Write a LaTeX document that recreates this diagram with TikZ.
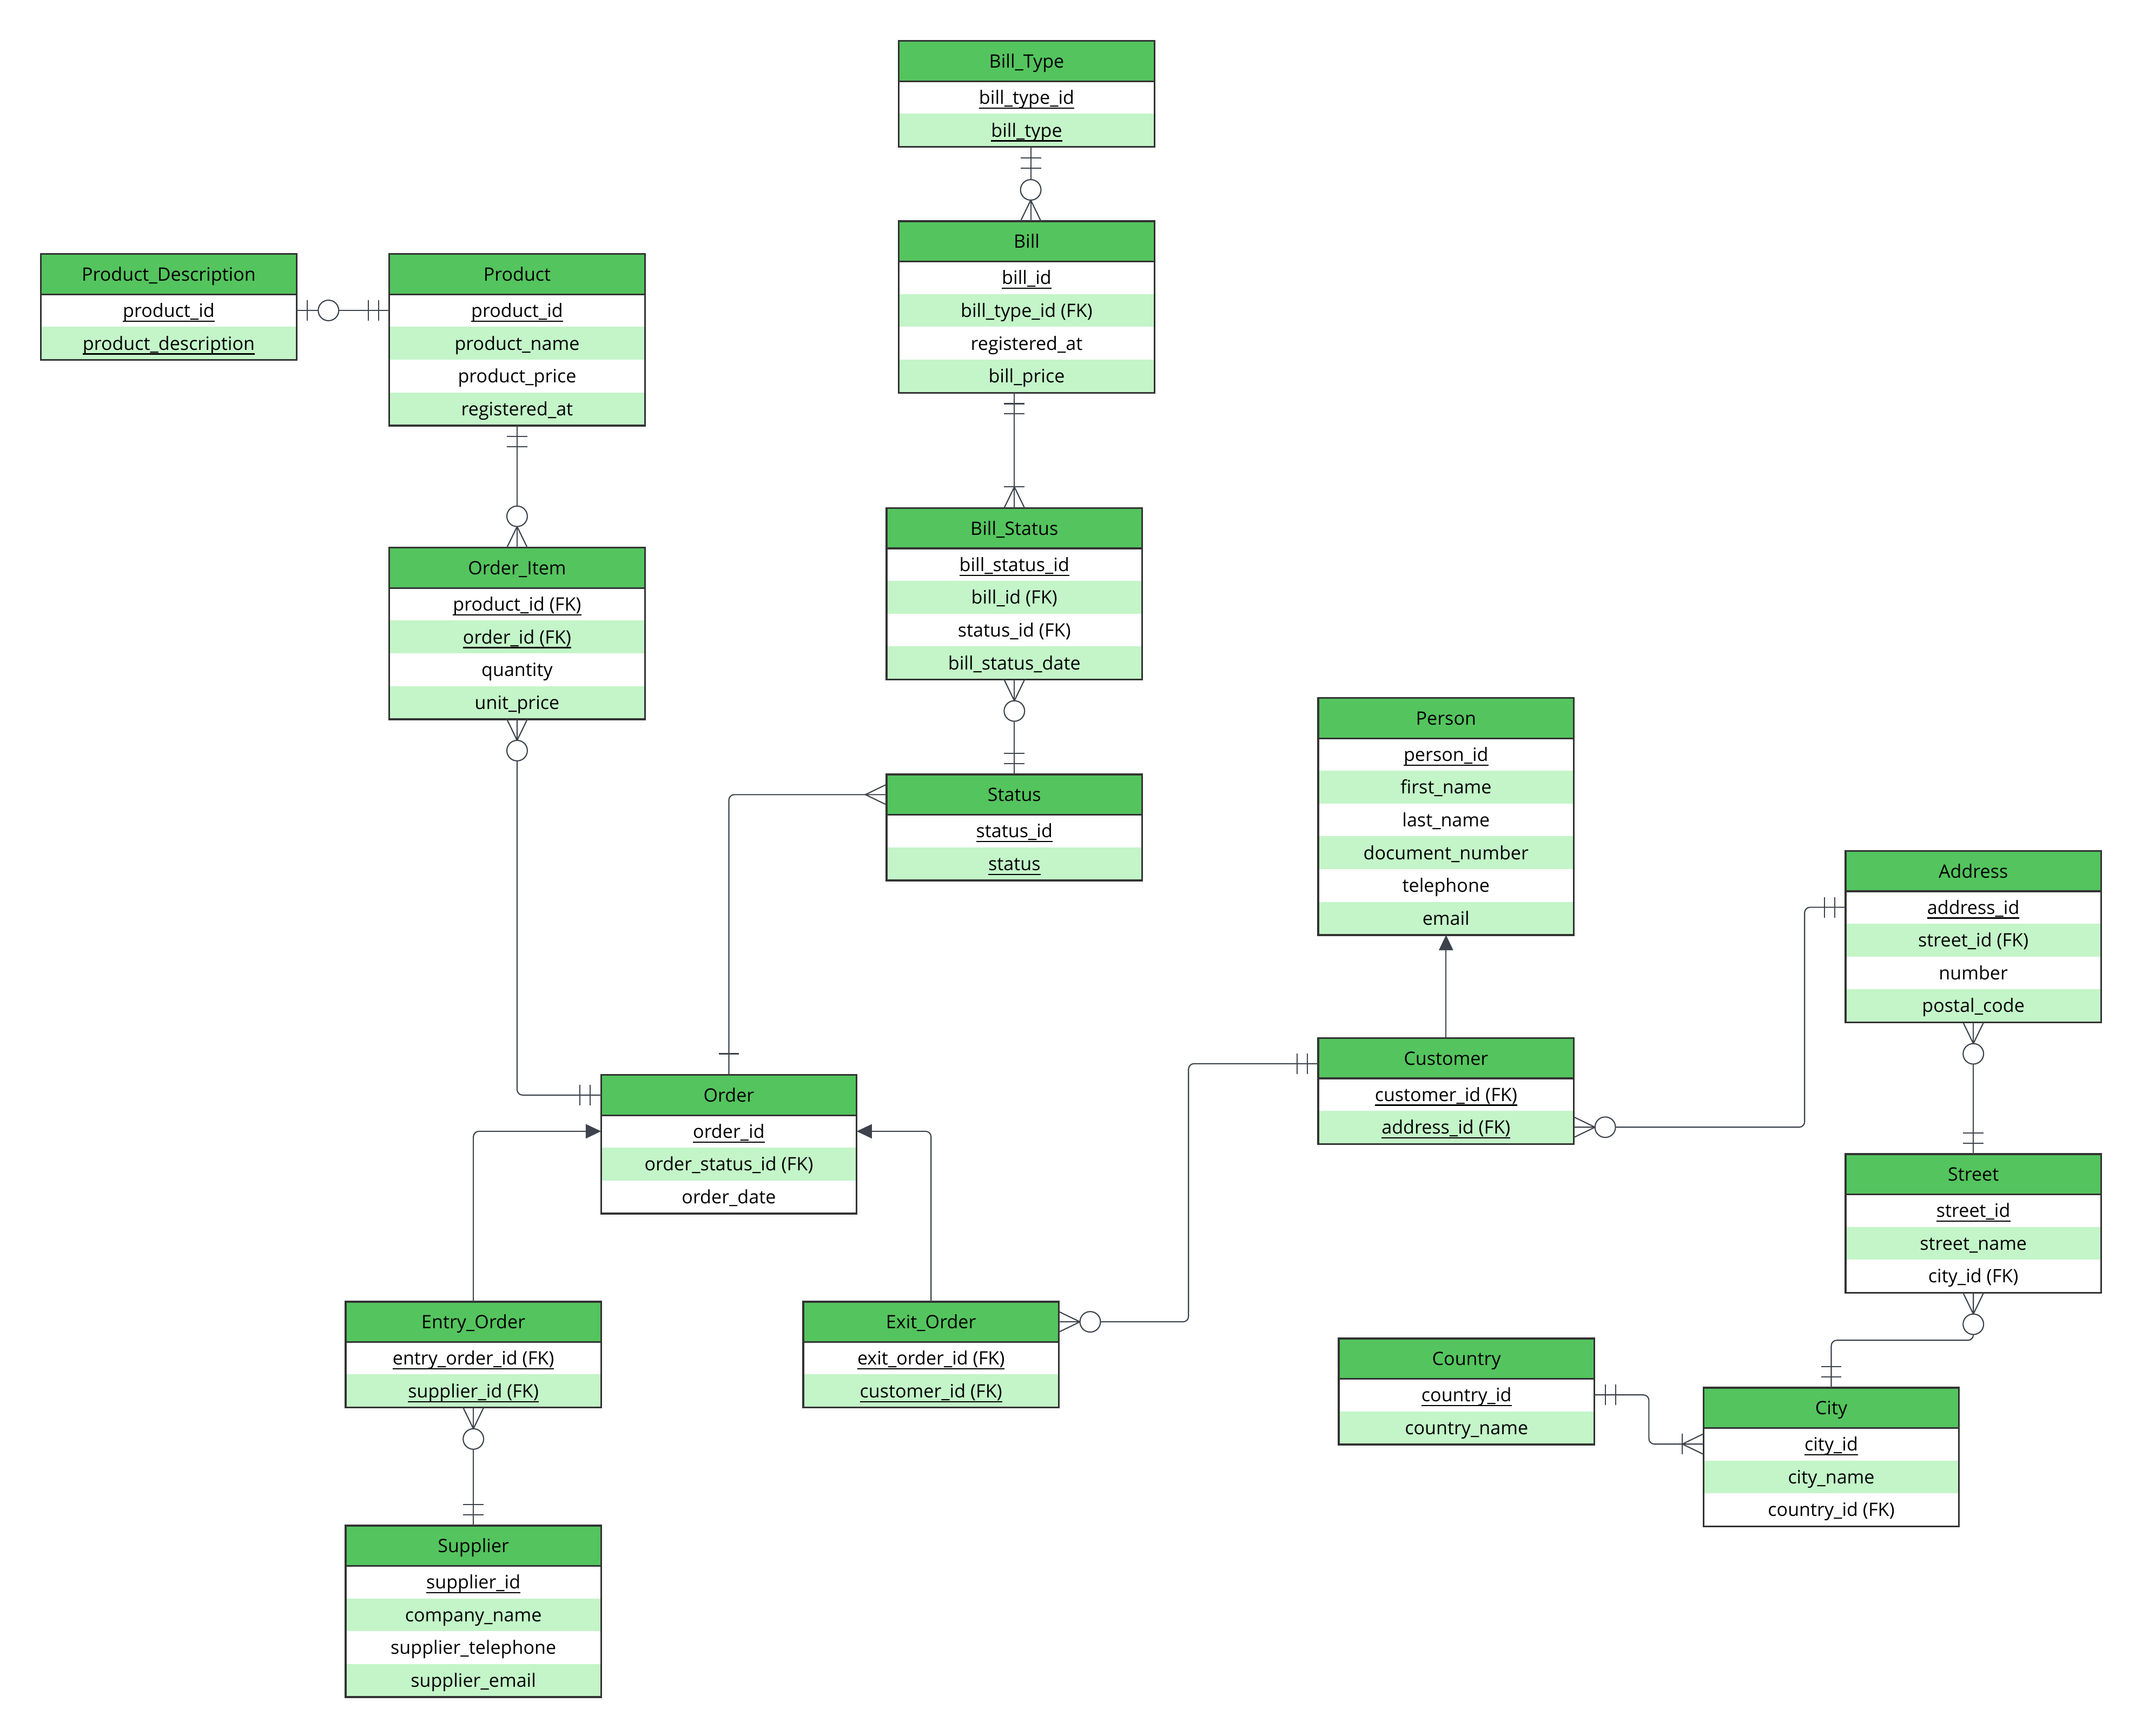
\documentclass[tikz,border=0pt]{standalone}
\usepackage{fontspec}
\setmainfont{Open Sans}
\usetikzlibrary{arrows.meta,calc}
\definecolor{hdrgreen}{HTML}{54C45E}
\definecolor{rowgreen}{HTML}{C3F5C8}
\definecolor{bordc}{HTML}{333333}
\definecolor{linec}{HTML}{3D434C}
\newcommand\PX{0.025cm}
\newcommand\ulk[1]{\setbox0\hbox{#1}\rlap{\rule[-2.4pt]{\wd0}{0.6pt}}\box0}
\tikzset{
  erfont/.style={font=\fontsize{9.6}{11}\selectfont},
  hdr/.style={erfont, fill=hdrgreen, minimum width=186.5*\PX, minimum height=29*\PX,
    inner sep=0pt, anchor=north west, text height=8pt, text depth=1pt},
  rowcell/.style={erfont, minimum width=186.5*\PX, minimum height=24*\PX,
    inner sep=0pt, anchor=north west, text height=8pt, text depth=1pt},
  tabborder/.style={draw=bordc, line width=0.95pt},
  conn/.style={draw=linec, line width=0.6pt, rounded corners=0.1cm},
  sym/.style={draw=linec, line width=0.6pt},
  isa/.style={conn, -{Triangle[length=0.28cm,width=0.26cm]}},
}
% table: name, x, y, title, rows (flag/text)
\newcommand\ertab[5]{%
  \node[hdr] (#1) at (#2,#3) {#4};
  \foreach \fl/\tx [count=\i] in {#5} {
    \pgfmathsetmacro\yy{#3+29+(\i-1)*24}
    \ifodd\i \def\rc{white}\else\def\rc{rowgreen}\fi
    \node[rowcell, fill=\rc] (#1-\i) at (#2,\yy) {\if u\fl\ulk{\tx}\else\tx\fi};
    \xdef\lastrow{\i}
  }
  \draw[tabborder] (#1.north west) rectangle (#1-\lastrow.south east);
  \draw[tabborder] (#1.south west) -- (#1.south east);
}
% end symbols
\newcommand\erkone{\draw[sym] (15.5,-7.5) -- (15.5,7.5);}
\newcommand\erkonlyone{\draw[sym] (8,-7.5) -- (8,7.5) (15.5,-7.5) -- (15.5,7.5);}
\newcommand\erkzeroone{\draw[sym] (8,-7.5) -- (8,7.5); \draw[sym, fill=white] (23.4,0) circle[radius=7.5*\PX];}
\newcommand\erkmany{\draw[sym] (0,-7.5) -- (15.5,0) -- (0,7.5);}
\newcommand\erkzeromany{\erkmany\draw[sym, fill=white] (23,0) circle[radius=7.5*\PX];}
\newcommand\erkonemany{\erkmany\draw[sym] (15.5,-7.5) -- (15.5,7.5);}
\newcommand\erend[3]{\begin{scope}[shift={#1}, rotate=#2]\csname erk#3\endcsname\end{scope}}

\begin{document}
\begin{tikzpicture}[x=0.025cm, y=-0.025cm]
\fill[white] (0,0) rectangle (1568,1271);
\useasboundingbox (0,0) rectangle (1568,1271);

\ertab{pdesc}{30}{186}{Product\_Description}{u/product\_id, u/product\_description}
\ertab{prod}{285}{186}{Product}{u/product\_id, n/product\_name, n/product\_price, n/registered\_at}
\ertab{btype}{658}{30}{Bill\_Type}{u/bill\_type\_id, u/bill\_type}
\ertab{bill}{658}{162}{Bill}{u/bill\_id, n/bill\_type\_id (FK), n/registered\_at, n/bill\_price}
\ertab{bstat}{649}{372}{Bill\_Status}{u/bill\_status\_id, n/bill\_id (FK), n/status\_id (FK), n/bill\_status\_date}
\ertab{status}{649}{567}{Status}{u/status\_id, u/status}
\ertab{oitem}{285}{401}{Order\_Item}{u/product\_id (FK), u/order\_id (FK), n/quantity, n/unit\_price}
\ertab{order}{440}{787}{Order}{u/order\_id, n/order\_status\_id (FK), n/order\_date}
\ertab{person}{965}{511}{Person}{u/person\_id, n/first\_name, n/last\_name, n/document\_number, n/telephone, n/email}
\ertab{cust}{965}{760}{Customer}{u/customer\_id (FK), u/address\_id (FK)}
\ertab{addr}{1351}{623}{Address}{u/address\_id, n/street\_id (FK), n/number, n/postal\_code}
\ertab{street}{1351}{845}{Street}{u/street\_id, n/street\_name, n/city\_id (FK)}
\ertab{country}{980}{980}{Country}{u/country\_id, n/country\_name}
\ertab{city}{1247}{1016}{City}{u/city\_id, n/city\_name, n/country\_id (FK)}
\ertab{entry}{253}{953}{Entry\_Order}{u/entry\_order\_id (FK), u/supplier\_id (FK)}
\ertab{exit}{588}{953}{Exit\_Order}{u/exit\_order\_id (FK), u/customer\_id (FK)}
\ertab{supp}{253}{1117}{Supplier}{u/supplier\_id, n/company\_name, n/supplier\_telephone, n/supplier\_email}

% connectors
\draw[conn] (pdesc-1.east) -- (prod-1.west);
\erend{(pdesc-1.east)}{0}{zeroone}
\erend{(prod-1.west)}{180}{onlyone}

\draw[conn] (prod-4.south) -- (oitem.north);
\erend{(prod-4.south)}{-90}{onlyone}
\erend{(oitem.north)}{90}{zeromany}

\draw[conn] (oitem-4.south) |- (order.west);
\erend{(oitem-4.south)}{-90}{zeromany}
\erend{(order.west)}{180}{onlyone}

\coordinate (btbot) at ($(btype-2.south)+(3,0)$);
\coordinate (billtop) at ($(bill.north)+(3,0)$);
\draw[conn] (btbot) -- (billtop);
\erend{(btbot)}{-90}{onlyone}
\erend{(billtop)}{90}{zeromany}

\coordinate (billbot) at (bill-4.south -| bstat.north);
\draw[conn] (billbot) -- (bstat.north);
\erend{(billbot)}{-90}{onlyone}
\erend{(bstat.north)}{90}{onemany}

\draw[conn] (bstat-4.south) -- (status.north);
\erend{(bstat-4.south)}{-90}{zeromany}
\erend{(status.north)}{90}{onlyone}

\draw[conn] (status.west) -| (order.north);
\erend{(status.west)}{180}{many}
\erend{(order.north)}{90}{one}

\draw[isa] (entry.north) |- (order-1.west);
\draw[isa] (exit.north) |- (order-1.east);
\draw[isa] (cust.north) -- (person-6.south);

\coordinate (custw) at ($(cust.west)+(0,4)$);
\draw[conn] (custw) -| ($(custw)!.5!(exit.east)$) |- (exit.east);
\erend{(custw)}{180}{onlyone}
\erend{(exit.east)}{0}{zeromany}

\coordinate (addrbend) at ($(addr-1.west)+(-30,0)$);
\draw[conn] (cust-2.east) -| (addrbend) -- (addr-1.west);
\erend{(cust-2.east)}{0}{zeromany}
\erend{(addr-1.west)}{180}{onlyone}

\draw[conn] (addr-4.south) -- (street.north);
\erend{(addr-4.south)}{-90}{zeromany}
\erend{(street.north)}{90}{onlyone}

\draw[conn] (street-3.south) |- ($(street-3.south)!.5!(city.north)$) -| (city.north);
\erend{(street-3.south)}{-90}{zeromany}
\erend{(city.north)}{90}{onlyone}

\draw[conn] (country-1.east) -| ($(country-1.east)!.5!(city-1.west)$) |- (city-1.west);
\erend{(country-1.east)}{0}{onlyone}
\erend{(city-1.west)}{180}{onemany}

\draw[conn] (entry-2.south) -- (supp.north);
\erend{(entry-2.south)}{-90}{zeromany}
\erend{(supp.north)}{90}{onlyone}
\end{tikzpicture}
\end{document}
